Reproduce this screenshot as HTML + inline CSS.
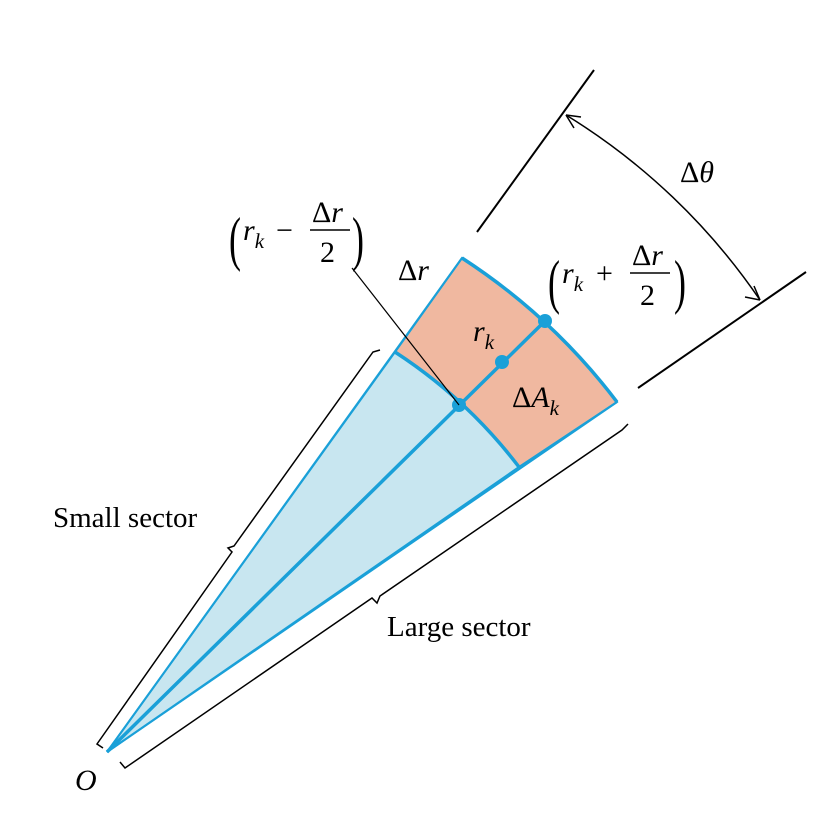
<!DOCTYPE html>
<html><head><meta charset="utf-8"><style>
html,body{margin:0;padding:0;background:#fff;}
svg{display:block;font-family:"Liberation Serif",serif;}
</style></head><body>
<svg width="818" height="832" viewBox="0 0 818 832">
<path d="M107,752 L395,352 A496,496 0 0 1 519,467 Z" fill="#c8e6f0" stroke="#1aa0d8" stroke-width="2"/>
<path d="M395,352 L462,258 A614,614 0 0 1 617,402 L519,467 A496,496 0 0 0 395,352 Z" fill="#f0b8a0" stroke="#1aa0d8" stroke-width="2"/>
<line x1="107" y1="752" x2="462" y2="258" stroke="#1aa0d8" stroke-width="2"/>
<line x1="107" y1="752" x2="617" y2="402" stroke="#1aa0d8" stroke-width="2"/>
<path d="M462,258 A614,614 0 0 1 617,402" fill="none" stroke="#1aa0d8" stroke-width="3.5"/>
<path d="M395,352 A496,496 0 0 1 519,467" fill="none" stroke="#1aa0d8" stroke-width="3.5"/>
<line x1="107" y1="752" x2="545" y2="321" stroke="#1aa0d8" stroke-width="3.5"/>
<circle cx="459" cy="405" r="7" fill="#1aa0d8"/>
<circle cx="502" cy="362" r="7" fill="#1aa0d8"/>
<circle cx="545" cy="321" r="7" fill="#1aa0d8"/>
<line x1="352" y1="268" x2="459" y2="405" stroke="#000" stroke-width="1.2"/>
<line x1="477" y1="232" x2="594" y2="70" stroke="#000" stroke-width="2"/>
<line x1="638" y1="388" x2="806" y2="272" stroke="#000" stroke-width="2"/>
<path d="M566,115 A640,640 0 0 1 760,300" fill="none" stroke="#000" stroke-width="1.5"/>
<path d="M566,115 L581,117 M566,115 L574,128" stroke="#000" stroke-width="1.5" fill="none"/>
<path d="M760,300 L745,297 M760,300 L754,286" stroke="#000" stroke-width="1.5" fill="none"/>
<path d="M103,748 L97,744 L232,552 L228,548 L234,546 L373,352 L380,350" fill="none" stroke="#000" stroke-width="1.5"/>
<path d="M120,762 L125,768 L372,598 L377,603 L380,596 L622,430 L628,424" fill="none" stroke="#000" stroke-width="1.5"/>
<text x="75" y="790" font-size="30" font-style="italic">O</text>
<text x="53" y="527" font-size="29">Small sector</text>
<text x="387" y="636" font-size="29">Large sector</text>
<text x="398" y="280" font-size="30">Δ<tspan font-style="italic">r</tspan></text>
<text x="473" y="341" font-size="30" font-style="italic">r<tspan font-size="21" dy="8">k</tspan></text>
<text x="512" y="407" font-size="30">Δ<tspan font-style="italic">A</tspan><tspan font-size="21" dy="8" font-style="italic">k</tspan></text>
<text x="680" y="182" font-size="30">Δ<tspan font-style="italic">θ</tspan></text>
<g>
<text font-size="60" transform="translate(229,259) scale(0.6,1)">(</text>
<text x="243" y="240" font-size="30" font-style="italic">r<tspan font-size="21" dy="8">k</tspan></text>
<text x="276" y="240" font-size="30">−</text>
<text x="312" y="222" font-size="30">Δ<tspan font-style="italic">r</tspan></text>
<line x1="310" y1="230" x2="350" y2="230" stroke="#000" stroke-width="1.5"/>
<text x="320" y="262" font-size="30">2</text>
<text font-size="60" transform="translate(352,259) scale(0.6,1)">)</text>
</g>
<g>
<text font-size="60" transform="translate(548,302) scale(0.6,1)">(</text>
<text x="562" y="283" font-size="30" font-style="italic">r<tspan font-size="21" dy="8">k</tspan></text>
<text x="596" y="283" font-size="30">+</text>
<text x="632" y="265" font-size="30">Δ<tspan font-style="italic">r</tspan></text>
<line x1="630" y1="273" x2="670" y2="273" stroke="#000" stroke-width="1.5"/>
<text x="640" y="305" font-size="30">2</text>
<text font-size="60" transform="translate(674,302) scale(0.6,1)">)</text>
</g>
</svg>
</body></html>
